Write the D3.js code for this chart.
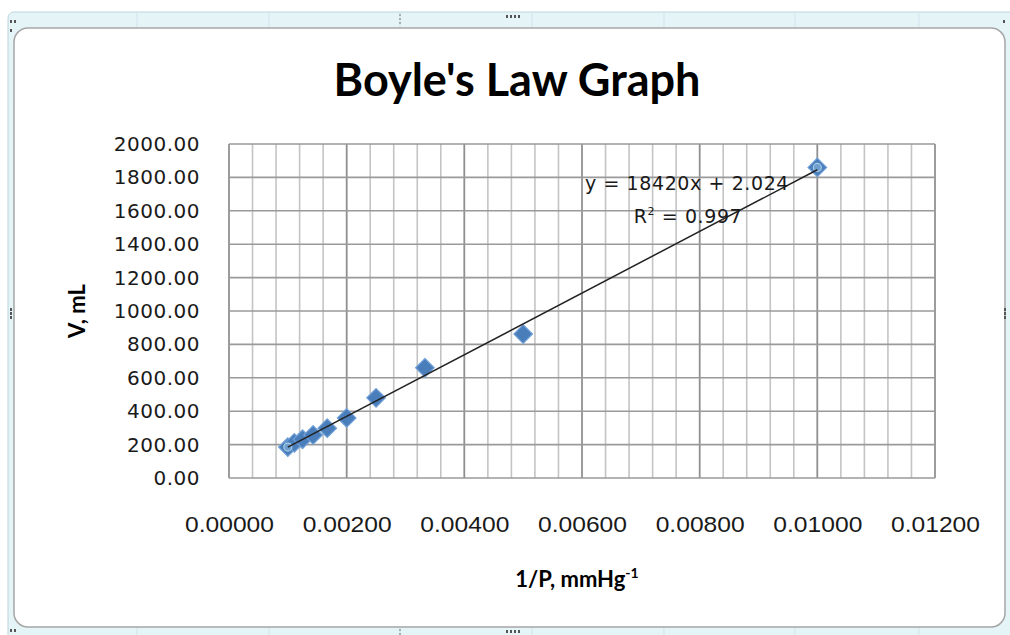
<!DOCTYPE html>
<html><head><meta charset="utf-8">
<script src="https://cdn.jsdelivr.net/npm/d3@7"></script>
<style>body{margin:0;background:#fff}svg{display:block}</style>
</head><body><svg id="c" width="1010" height="635"></svg>
<script>
// ---- data ----
const invP   = [0.00100, 0.00111, 0.00125, 0.00143, 0.00167, 0.00200, 0.00250, 0.00333, 0.00500, 0.01000];
const volume = [185, 210, 232, 258, 298, 360, 480, 660, 862, 1860];
const xTickValues = [0, 0.002, 0.004, 0.006, 0.008, 0.010, 0.012];
const yTickValues = [0, 200, 400, 600, 800, 1000, 1200, 1400, 1600, 1800, 2000];
const titleText = "Boyle's Law Graph";
const yTitle = "V, mL";
const xTitleMain = "1/P, mmHg";
const xTitleSup = "-1";
const eqLine1 = "y = 18420x + 2.024";
const eqLine2 = ["R", "2", " = 0.997"];

const svg = d3.select("#c");

// ---- Excel-like frame ----
const frame = svg.append("g");
frame.append("rect").attr("x",8).attr("y",12).attr("width",1010).attr("height",640).attr("rx",6)
  .attr("fill","#e4f4f7").attr("stroke","#bcd6dc");
[137,269,400,532,664,795,919].forEach(x=>{
  frame.append("line").attr("x1",x).attr("x2",x).attr("y1",13).attr("y2",28).attr("stroke","#d3e3ea");
  frame.append("line").attr("x1",x).attr("x2",x).attr("y1",627).attr("y2",635).attr("stroke","#d3e3ea");
});
frame.append("rect").attr("x",14).attr("y",28).attr("width",991).attr("height",599).attr("rx",14)
  .attr("fill","#fff").attr("stroke","#a6a6a6").attr("stroke-width",1.5);
function dots(x,y,n,horiz){for(let i=0;i<n;i++){frame.append("rect").attr("x",horiz?x+i*4:x).attr("y",horiz?y:y+i*4).attr("width",2).attr("height",3).attr("fill","#555");}}
dots(10,20,2,true); dots(10,29,1,true); dots(506,15,4,true); dots(506,630,4,true);
dots(10,629,2,true); dots(1003,20,1,true);
frame.append("line").attr("x1",400).attr("x2",400).attr("y1",14).attr("y2",26).attr("stroke","#777").attr("stroke-dasharray","2,2");
frame.append("line").attr("x1",400).attr("x2",400).attr("y1",629).attr("y2",635).attr("stroke","#777").attr("stroke-dasharray","2,2");
dots(10,308,3,false); dots(1004,308,3,false);

// ---- scales ----
const x = d3.scaleLinear().domain([0,0.012]).range([229,935]);
const y = d3.scaleLinear().domain([0,2000]).range([478,144]);

// ---- grid ----
const grid = svg.append("g");
const minor = d3.range(0, 0.01201, 0.0004);
grid.selectAll("line.minor").data(minor).join("line")
  .attr("x1",d=>x(d)).attr("x2",d=>x(d)).attr("y1",y(0)).attr("y2",y(2000))
  .attr("stroke","#c4c4c4").attr("stroke-width",1.6);
grid.selectAll("line.majx").data(xTickValues).join("line")
  .attr("x1",d=>x(d)).attr("x2",d=>x(d)).attr("y1",y(0)).attr("y2",y(2000))
  .attr("stroke","#8f8f8f").attr("stroke-width",1.6);
grid.selectAll("line.majy").data(yTickValues).join("line")
  .attr("x1",x(0)).attr("x2",x(0.012)).attr("y1",d=>y(d)).attr("y2",d=>y(d))
  .attr("stroke","#9a9a9a").attr("stroke-width",1.6);

// ---- axes ----
const tickFont = "DejaVu Sans, sans-serif";
const yAxis = svg.append("g").attr("transform",`translate(${x(0)},0)`)
  .call(d3.axisLeft(y).tickValues(yTickValues).tickFormat(d3.format(".2f")).tickSize(0).tickPadding(29));
yAxis.select(".domain").remove();
yAxis.selectAll("text").attr("font-family",tickFont).attr("font-size",20).attr("fill","#1a1a1a").attr("letter-spacing",0.5);

const xAxis = svg.append("g").attr("transform",`translate(0,${y(0)})`)
  .call(d3.axisBottom(x).tickValues(xTickValues).tickFormat(d3.format(".5f")).tickSize(0).tickPadding(38));
xAxis.select(".domain").remove();
xAxis.selectAll("text").attr("font-family","Liberation Sans, sans-serif").attr("font-size",22).attr("fill","#1a1a1a")
  .attr("textLength",89).attr("lengthAdjust","spacingAndGlyphs");

// ---- trendline (least squares) ----
const n = invP.length;
const mx = d3.mean(invP), my = d3.mean(volume);
let sxy=0,sxx=0; for(let i=0;i<n;i++){sxy+=(invP[i]-mx)*(volume[i]-my); sxx+=(invP[i]-mx)**2;}
const slope = sxy/sxx, icpt = my - slope*mx;
const x0 = d3.min(invP), x1 = d3.max(invP);

// ---- points ----
const sym = d3.symbol().type(d3.symbolDiamond2).size(220);
svg.append("g").selectAll("path").data(invP).join("path")
  .attr("d",sym).attr("transform",(d,i)=>`translate(${x(d)},${y(volume[i])})`)
  .attr("fill","#4a7ebb").attr("stroke","#6f9fd6").attr("stroke-width",1.2);
[0,n-1].forEach(i=>{
  svg.append("circle").attr("cx",x(invP[i])).attr("cy",y(volume[i])).attr("r",4)
    .attr("fill","#6d9fcf").attr("stroke","#a9cbe6").attr("stroke-width",1.2);
});

svg.append("line").attr("x1",x(x0)).attr("y1",y(slope*x0+icpt)).attr("x2",x(x1)).attr("y2",y(slope*x1+icpt))
  .attr("stroke","#222").attr("stroke-width",1.5);

// ---- equation ----
svg.append("text").attr("x",687).attr("y",190).attr("text-anchor","middle")
  .attr("font-family",tickFont).attr("font-size",19).attr("letter-spacing",0.6).attr("fill","#1a1a1a").text(eqLine1);
const r2 = svg.append("text").attr("x",688).attr("y",223).attr("text-anchor","middle")
  .attr("font-family",tickFont).attr("font-size",19).attr("letter-spacing",0.6).attr("fill","#1a1a1a");
r2.append("tspan").text(eqLine2[0]);
r2.append("tspan").attr("font-size",11).attr("dy",-8).text(eqLine2[1]);
r2.append("tspan").attr("dy",8).text(eqLine2[2]);

// ---- titles ----
svg.append("text").attr("x",517).attr("y",96).attr("text-anchor","middle")
  .attr("font-family","Lato, sans-serif").attr("font-weight","bold").attr("font-size",45).attr("fill","#000").text(titleText);
svg.append("text").attr("transform","translate(85,311) rotate(-90)").attr("text-anchor","middle")
  .attr("font-family","Lato, sans-serif").attr("font-weight","bold").attr("font-size",22).attr("fill","#000").text(yTitle);
const xt = svg.append("text").attr("x",577).attr("y",587).attr("text-anchor","middle")
  .attr("font-family","Lato, sans-serif").attr("font-weight","bold").attr("font-size",22).attr("fill","#000");
xt.append("tspan").text(xTitleMain);
xt.append("tspan").attr("font-size",14).attr("dy",-9).text(xTitleSup);
</script></body></html>
